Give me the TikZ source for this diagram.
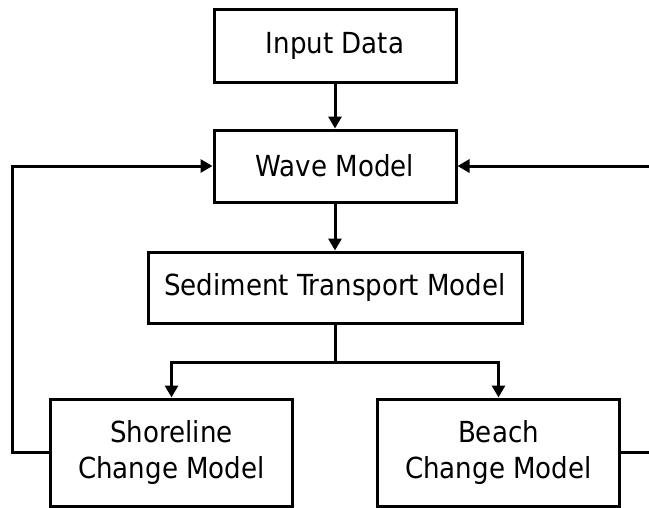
\documentclass[tikz,border=0pt]{standalone}
\usepackage{fontspec}
\setmainfont{DejaVu Sans Condensed}
\usetikzlibrary{arrows.meta}
\begin{document}
\begin{tikzpicture}[x=1pt,y=-1pt,
  box/.style={draw,line width=3pt,inner sep=0pt,align=center,
    font=\fontsize{29}{36}\selectfont},
  conn/.style={line width=3pt},
  arr/.style={conn,-{Triangle[length=12pt,width=13pt]}}]
\useasboundingbox (0,0) rectangle (649,507);
\node[box,minimum width=242pt,minimum height=73pt] (input) at (335,45.5) {Input Data};
\node[box,minimum width=242pt,minimum height=72pt] (wave) at (335,166) {Wave Model};
\node[box,minimum width=374pt,minimum height=71pt] (sed) at (335,287.5) {Sediment Transport Model};
\node[box,minimum width=242pt,minimum height=107pt] (shore) at (171.5,452.5) {Shoreline\\Change Model};
\node[box,minimum width=242pt,minimum height=107pt] (beach) at (498.5,452.5) {Beach\\Change Model};
\coordinate (split) at (335,362);
\coordinate (lc) at (12.5,452.5);
\coordinate (rtop) at (652,166);
\coordinate (rbot) at (652,452.5);
\draw[arr] (input) -- (wave);
\draw[arr] (wave) -- (sed);
\draw[conn] (sed) -- (split);
\draw[arr] (split) -| (shore.north);
\draw[arr] (split) -| (beach.north);
\draw[arr] (shore.west) -- (lc) |- (wave.west);
\draw[arr] (rtop) -- (wave.east);
\draw[conn] (beach.east) -- (rbot);
\end{tikzpicture}
\end{document}
